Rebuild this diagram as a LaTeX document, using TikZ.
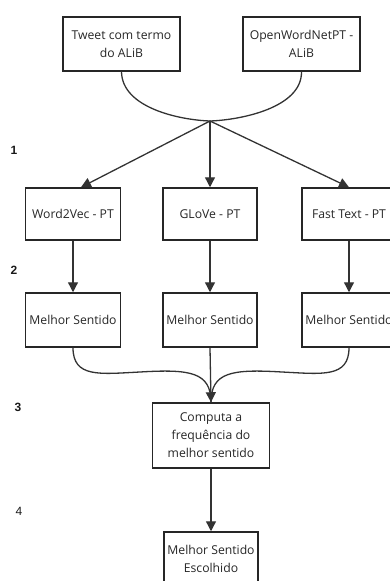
\documentclass[tikz,border=0pt]{standalone}
\usepackage{fontspec}
\setmainfont{Open Sans}
\newfontfamily\numfont{Liberation Sans}
\usetikzlibrary{arrows.meta,calc}
\begin{document}
\begin{tikzpicture}[x=1pt,y=-1pt,
  box/.style={draw=black!85,line width=1.5pt,rectangle,inner sep=0pt,align=center,font=\fontsize{12.2}{18}\selectfont,text=black!85},
  conn/.style={line width=1.3pt,draw=black!80},
  arr/.style={conn,-{Triangle[length=10pt,width=10pt]}},
  num/.style={font=\numfont\fontsize{12}{13}\selectfont,text=black!90},
  bnum/.style={font=\numfont\bfseries\fontsize{12}{13}\selectfont,text=black!90}]
\useasboundingbox (0,0) rectangle (390,581);
\clip (0,0) rectangle (390,581);
\node[box,minimum width=117pt,minimum height=54pt] (tweet) at (121.5,44) {Tweet com termo\\do ALiB};
\node[box,minimum width=117pt,minimum height=54pt] (own) at (301.5,44) {OpenWordNetPT -\\ALiB};
\coordinate (j) at (210,121);
\node[box,minimum width=95pt,minimum height=52pt] (w2v) at (73,214) {Word2Vec - PT};
\node[box,minimum width=94pt,minimum height=52pt] (glove) at (210,214) {GLoVe - PT};
\node[box,minimum width=94pt,minimum height=52pt] (fast) at (349,214) {Fast Text - PT};
\node[box,minimum width=95pt,minimum height=54pt] (m1) at (73,320) {Melhor Sentido};
\node[box,minimum width=94pt,minimum height=54pt] (m2) at (210,320) {Melhor Sentido};
\node[box,minimum width=94pt,minimum height=54pt] (m3) at (349,320) {Melhor Sentido};
\node[box,minimum width=117pt,minimum height=65pt] (comp) at (211,435.5) {Computa a\\frequência do\\melhor sentido};
\node[box,minimum width=94pt,minimum height=54pt] (fin) at (211,559) {Melhor Sentido\\Escolhido};
% labels
\node[bnum] (n1) at (14,150) {1};
\node[bnum] (n2) at (14,270) {2};
\node[bnum] (n3) at (18,407) {3};
\node[num] (n4) at (19,511) {4};
% top merge
\draw[conn] (tweet.south) .. controls (122,108) and (180,120) .. (j);
\draw[conn] (own.south) .. controls (302,108) and (240,120) .. (j);
\draw[arr] (j) -- ([xshift=8pt]w2v.north);
\draw[arr] (j) -- (glove.north);
\draw[arr] (j) -- (fast.north);
\draw[arr] (w2v.south) -- (m1.north);
\draw[arr] (glove.south) -- (m2.north);
\draw[arr] (fast.south) -- (m3.north);
% bottom merge
\draw[conn] (m1.south) .. controls (73,378) and (100,374) .. (140,372) .. controls (190,369) and (211,372) .. (comp.north);
\draw[conn] (m3.south) .. controls (349,378) and (322,374) .. (282,372) .. controls (232,369) and (211,372) .. (comp.north);
\draw[arr] (m2.south) -- (comp.north);
\draw[arr] (comp.south) -- (fin.north);
\end{tikzpicture}
\end{document}
